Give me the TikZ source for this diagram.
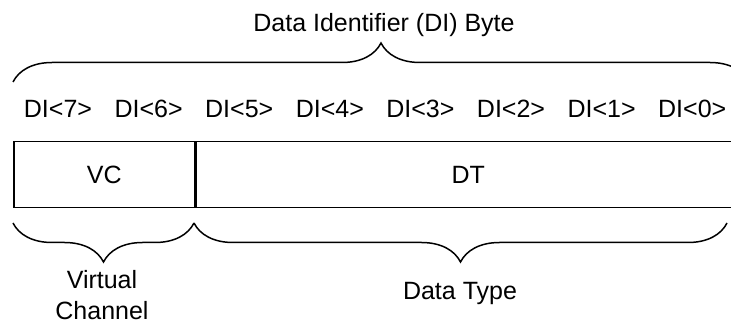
\documentclass[tikz,border=0pt]{standalone}
\usepackage{fontspec}
\setmainfont{Liberation Sans}
\usetikzlibrary{decorations.pathreplacing}
\begin{document}
\begin{tikzpicture}[x=1pt,y=1pt,
  lbl/.style={inner sep=0pt,font=\fontsize{25}{31}\selectfont},
  cell/.style={draw,line width=1.5pt,minimum height=66pt,inner sep=0pt,font=\fontsize{25}{31}\selectfont},
  brc/.style={line width=1.5pt,decorate,decoration={brace,amplitude=39pt}}]
\useasboundingbox (0,0) rectangle (731,324);
% the byte
\node[cell,anchor=north west,minimum width=181pt] (vc) at (13,183) {VC};
\node[cell,anchor=west,minimum width=544pt] (dt) at (vc.east) {DT};
% bit labels
\foreach \i in {0,...,7}
  \node[lbl,anchor=base] (di\i) at ({58+90.6*(7-\i)},206) {DI<\i>};
% braces
\coordinate (tl) at (13,242);
\coordinate (tr) at (749,242);
\coordinate (bl) at (13,101);
\coordinate (bm) at (194,101);
\coordinate (br) at (727,101);
\draw[brc] (tl) -- (tr);
\draw[brc] (bm) -- (bl);
\draw[brc] (br) -- (bm);
\node[lbl,anchor=base] (title) at (384,292) {Data Identifier (DI) Byte};
\node[lbl,anchor=north,align=center] (vclbl) at (102,53.5) {Virtual\\Channel};
\node[lbl,anchor=base] (dtlbl) at (460,24) {Data Type};
\end{tikzpicture}
\end{document}
